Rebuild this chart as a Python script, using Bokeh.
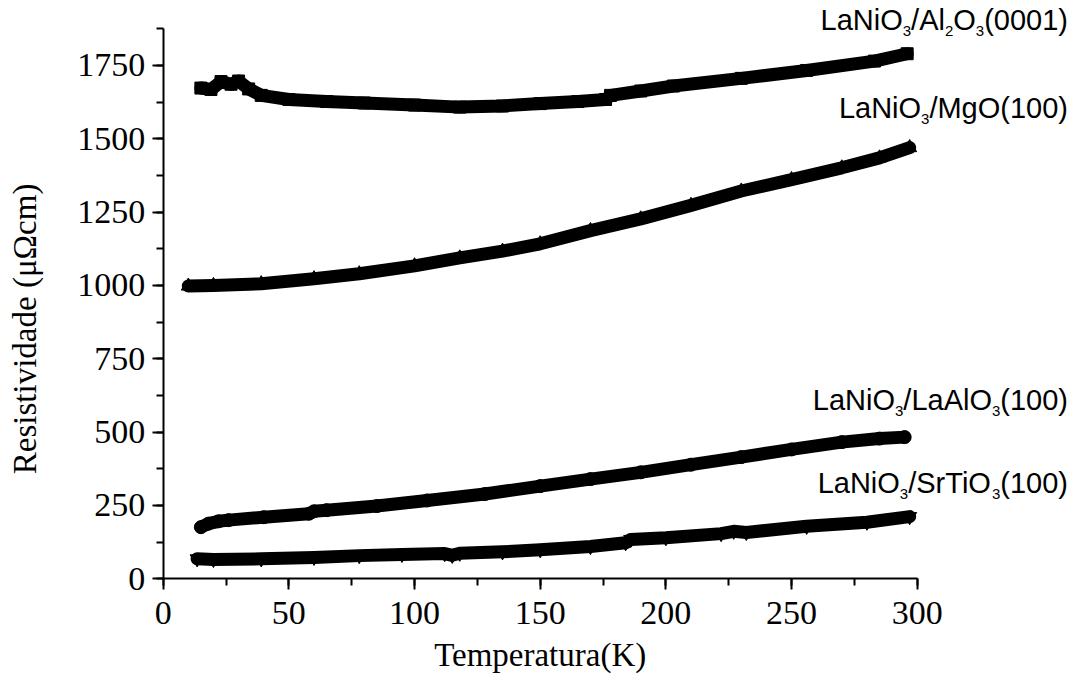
import math
from bokeh.plotting import figure
from bokeh.models import Label, SingleIntervalTicker, Range1d
from bokeh.embed import file_html
from bokeh.resources import INLINE

# ---------------- data ----------------
temp_al2o3 = [15, 19, 23, 27, 30, 34, 39, 50, 65, 80, 100, 118, 135, 150, 165, 176, 178, 190, 203, 230, 256, 283, 296]
res_al2o3 = [1673, 1668, 1695, 1686, 1697, 1670, 1648, 1634, 1627, 1622, 1615, 1608, 1612, 1620, 1627, 1634, 1648, 1663, 1680, 1706, 1733, 1765, 1790]

temp_mgo = [10, 20, 39, 60, 78, 100, 118, 135, 150, 170, 190, 210, 230, 250, 270, 285, 297]
res_mgo = [998, 1000, 1006, 1023, 1040, 1067, 1094, 1117, 1142, 1187, 1227, 1273, 1322, 1361, 1401, 1435, 1470]

temp_laalo3 = [15, 18, 22, 26, 40, 58, 60, 65, 85, 105, 128, 150, 170, 190, 210, 230, 250, 270, 285, 295]
res_laalo3 = [176, 188, 196, 200, 210, 222, 230, 234, 248, 267, 289, 316, 340, 363, 389, 415, 441, 466, 478, 483]

temp_srtio3 = [13.5, 20, 39, 60, 78, 95, 112, 115, 118, 135, 150, 170, 184, 186, 200, 222, 227, 232, 256, 280, 297]
res_srtio3 = [68, 66, 68, 73, 79, 83, 86, 80, 87, 92, 99, 110, 123, 134, 140, 154, 162, 158, 179, 193, 212]

x_bounds = (0, 300)
y_bounds = (0, 1875)
x_ticks_interval = 50
y_ticks_interval = 250
x_label = "Temperatura(K)"
y_label = "Resistividade (\u03bc\u03a9cm)"

# series labels: list of (text, is_subscript)
label_al2o3 = [("LaNiO", False), ("3", True), ("/Al", False), ("2", True), ("O", False), ("3", True), ("(0001)", False)]
label_mgo = [("LaNiO", False), ("3", True), ("/MgO(100)", False)]
label_laalo3 = [("LaNiO", False), ("3", True), ("/LaAlO", False), ("3", True), ("(100)", False)]
label_srtio3 = [("LaNiO", False), ("3", True), ("/SrTiO", False), ("3", True), ("(100)", False)]

# ---------------- figure ----------------
W, H = 1083, 686
# the frame covers the whole canvas; axes are pinned at x=0 / y=0
PX_PER_X = 754.0 / 300.0
PX_PER_Y = 550.0 / 1875.0
X0_PX, Y0_PX = 162.7, 578.3   # canvas position of (0, 0)
SHIFT = 12                     # baseline correction for labels (px)
x_range = Range1d(-X0_PX / PX_PER_X, (W - X0_PX) / PX_PER_X)
y_range = Range1d(-(H - Y0_PX) / PX_PER_Y, Y0_PX / PX_PER_Y)

p = figure(width=W, height=H, output_backend="svg", toolbar_location=None, title=None,
           x_range=x_range, y_range=y_range,
           min_border_left=0, min_border_right=0, min_border_top=0, min_border_bottom=0)
p.xgrid.visible = False
p.ygrid.visible = False
p.outline_line_color = None
p.background_fill_color = "white"
p.border_fill_color = "white"

p.xaxis.ticker = SingleIntervalTicker(interval=x_ticks_interval, num_minor_ticks=2)
p.yaxis.ticker = SingleIntervalTicker(interval=y_ticks_interval, num_minor_ticks=2)
p.xaxis.fixed_location = 0
p.yaxis.fixed_location = 0
p.xaxis.bounds = x_bounds
p.yaxis.bounds = y_bounds

for ax in (p.xaxis[0], p.yaxis[0]):
    ax.axis_line_color = "black"
    ax.axis_line_width = 2
    ax.major_tick_line_color = "black"
    ax.major_tick_line_width = 2
    ax.minor_tick_line_color = "black"
    ax.minor_tick_line_width = 2
    ax.major_tick_in = 0
    ax.major_tick_out = 11
    ax.minor_tick_in = 0
    ax.minor_tick_out = 7
    ax.major_label_text_font = "Liberation Serif"
    ax.major_label_text_font_size = "34px"
    ax.major_label_text_color = "black"
    ax.major_label_standoff = 7
p.xaxis.major_label_standoff = 12

# axis titles (placed as labels inside the canvas-wide frame)
p.add_layout(Label(x=150, y=-(666 - 578.3) / PX_PER_Y, y_offset=SHIFT, text=x_label,
                   text_align="center", text_baseline="alphabetic",
                   text_font="Liberation Serif", text_font_size="33px", text_color="black"))
p.add_layout(Label(x=(36 - 162.7) / PX_PER_X, y=852, x_offset=-SHIFT, text=y_label,
                   angle=math.pi / 2, text_align="center", text_baseline="alphabetic",
                   text_font="Liberation Serif", text_font_size="33px", text_color="black"))

# ---------------- series ----------------
series = [
    (temp_al2o3, res_al2o3, "square", 12),
    (temp_mgo, res_mgo, "triangle", 14),
    (temp_laalo3, res_laalo3, "circle", 13),
    (temp_srtio3, res_srtio3, "inverted_triangle", 14),
]
for t, r, marker, size in series:
    p.line(t, r, line_width=13, line_color="black", line_join="round", line_cap="round")
    p.scatter(t, r, marker=marker, size=size, fill_color="black", line_color="black")

# ---------------- series labels (composite text with subscripts) ----------------
ARIAL = {"L": 556, "a": 556, "N": 722, "i": 222, "O": 778, "/": 278, "A": 667, "l": 222,
         "(": 333, ")": 333, "M": 833, "g": 556, "S": 667, "r": 333, "T": 611}
for d in "0123456789":
    ARIAL[d] = 556

MAIN_FS = 29
SUB_FS = 15


def text_width(s, fs):
    return sum(ARIAL.get(c, 556) for c in s) / 1000.0 * fs


def add_composite(parts, x_right, y_base):
    total = sum(text_width(s, SUB_FS if sub else MAIN_FS) for s, sub in parts)
    off = -total
    for s, sub in parts:
        fs = SUB_FS if sub else MAIN_FS
        p.add_layout(Label(x=x_right, y=y_base, text=s,
                           x_offset=off, y_offset=SHIFT + (-11 if sub else 0),
                           text_align="left", text_baseline="alphabetic",
                           text_font="Liberation Sans", text_font_size=f"{fs}px",
                           text_color="black"))
        off += text_width(s, fs)


add_composite(label_al2o3, 360, 1864)
add_composite(label_mgo, 360, 1563)
add_composite(label_laalo3, 360, 567)
add_composite(label_srtio3, 360, 284)

open("out.html", "w").write(file_html(p, INLINE))
